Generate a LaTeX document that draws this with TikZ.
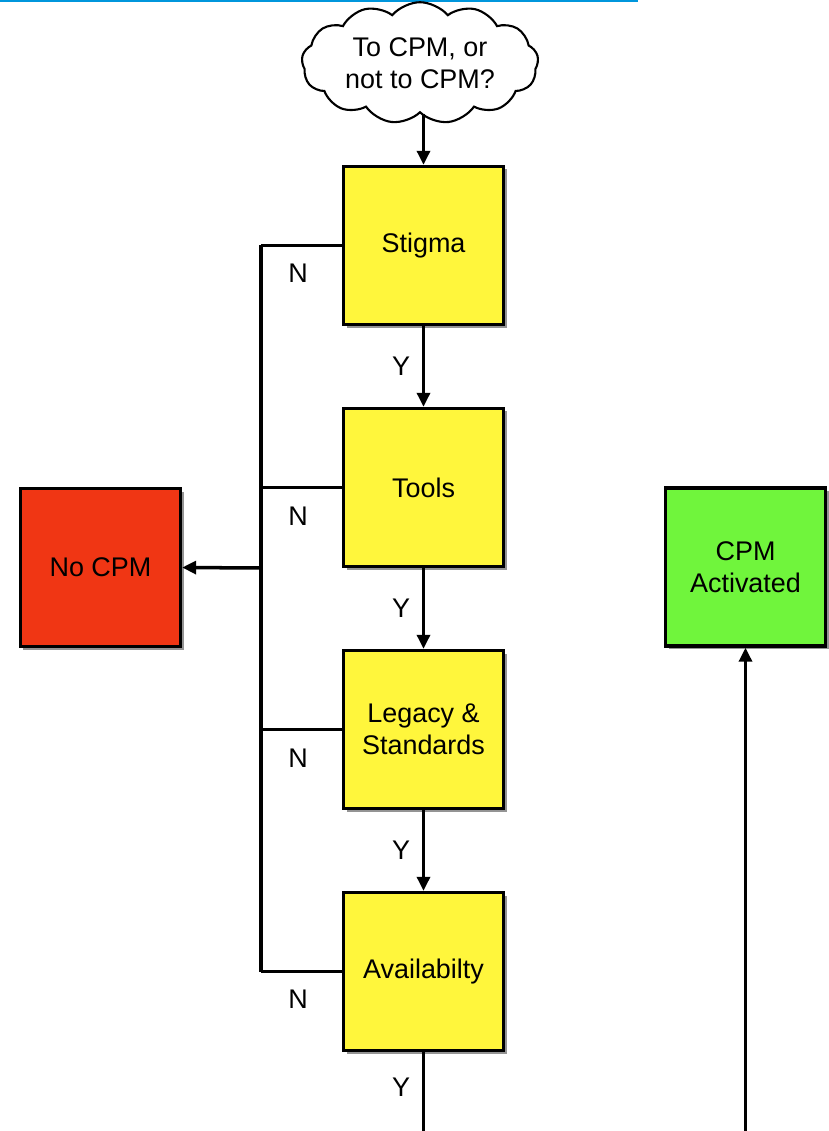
\documentclass[tikz,border=0pt]{standalone}
\usepackage{fontspec}
\setmainfont{Liberation Sans}
\usetikzlibrary{positioning,shapes.symbols,shadows,arrows.meta}

\definecolor{boxyellow}{RGB}{255,246,60}
\definecolor{boxred}{RGB}{240,54,20}
\definecolor{boxgreen}{RGB}{112,245,60}
\definecolor{rulecyan}{RGB}{0,150,220}

\begin{document}
\begin{tikzpicture}[
    x=0.03cm, y=-0.03cm,
    font=\fontsize{23}{27.5}\selectfont,
    step box/.style={rectangle, draw, line width=2.8pt, minimum width=4.8cm, minimum height=4.74cm,
        align=center, inner sep=0pt,
        drop shadow={opacity=1, fill=black!42, shadow xshift=0.09cm, shadow yshift=-0.09cm}},
    thought/.style={cloud, cloud puffs=13, cloud puff arc=100, aspect=2.1, draw, line width=1.8pt,
        fill=white, minimum width=7.1cm, minimum height=3.45cm, align=center, inner sep=0pt},
    flow/.style={line width=3pt, -{Triangle[length=12pt,width=11pt]}},
    wire/.style={line width=3pt},
    answer/.style={inner sep=0pt}
]
\useasboundingbox (0,0) rectangle (828,1131);

% rule along the top
\draw[rulecyan, line width=1.8pt] (0,1) -- (638,1);

% the question
\node[thought] (ask) at (420,63) {To CPM, or\\not to CPM?};

% the four tests
\node[step box, fill=boxyellow] (stigma) at (423.5,245.5) {Stigma};
\node[step box, fill=boxyellow] (tools) at (423.5,487.5) {Tools};
\node[step box, fill=boxyellow] (legacy) at (423.5,729.5) {Legacy \&\\Standards};
\node[step box, fill=boxyellow] (avail) at (423.5,971.5) {Availabilty};

% outcomes
\node[step box, fill=boxred] (nocpm) at (100.5,567.5) {No CPM};
\node[step box, fill=boxgreen] (cpmon) at (745.5,567) {CPM\\Activated};

% points on the N bus and at the lower edge
\coordinate (n1) at (261,245.5);
\coordinate (n2) at (261,487.5);
\coordinate (n3) at (261,729.5);
\coordinate (n4) at (261,971.5);
\coordinate (nmid) at (261,568);
\coordinate (yend) at (423.5,1131);
\coordinate (goin) at (745.5,1131);

% Y path
\draw[flow] (ask.south -| stigma.north) -- (stigma.north);
\draw[flow] (stigma) -- (tools) node[answer, pos=0.5, left=10pt] {Y};
\draw[flow] (tools) -- (legacy) node[answer, pos=0.5, left=10pt] {Y};
\draw[flow] (legacy) -- (avail) node[answer, pos=0.5, left=10pt] {Y};
\draw[wire] (avail.south) -- (yend) node[answer, pos=0.45, left=10pt] {Y};
\draw[flow] (goin) -- (cpmon.south);

% N path
\draw[wire] (stigma.west) -- (n1);
\draw[wire] (tools.west) -- (n2);
\draw[wire] (legacy.west) -- (n3);
\draw[wire] (avail.west) -- (n4);
\draw[wire] (n1) -- (n4);
\draw[flow] (nmid) -- (nocpm.east);
\node[answer] (lab1) at (298,273) {N};
\node[answer] (lab2) at (298,516) {N};
\node[answer] (lab3) at (298,758) {N};
\node[answer] (lab4) at (298,999) {N};

\end{tikzpicture}
\end{document}
